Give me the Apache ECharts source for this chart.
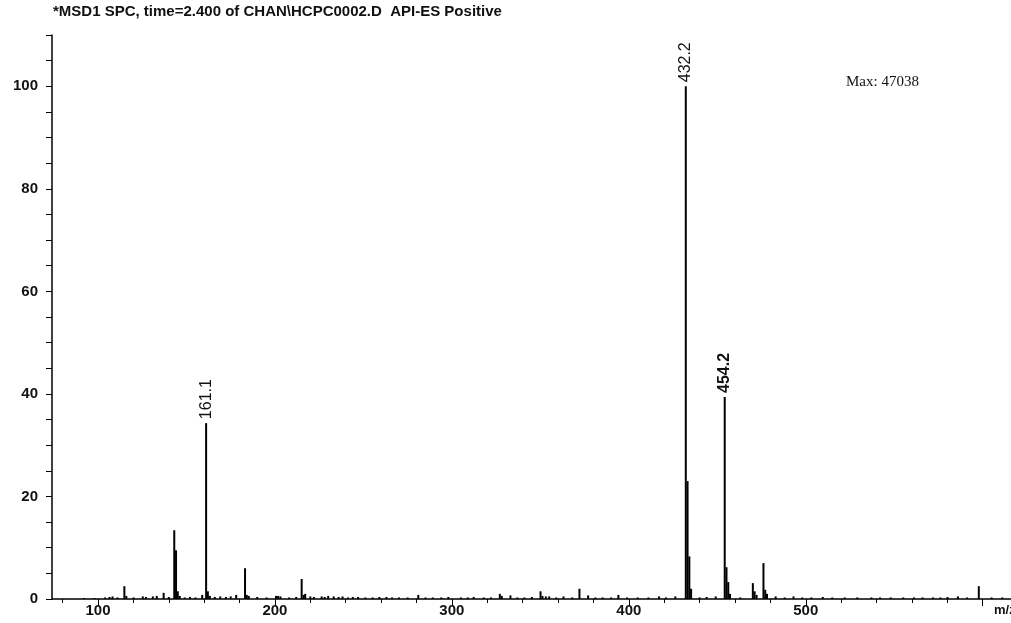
<!DOCTYPE html>
<html>
<head>
<meta charset="utf-8">
<title>MSD1 SPC</title>
<script src="https://cdn.jsdelivr.net/npm/echarts@6/dist/echarts.min.js"></script>
<style>
  html, body { margin: 0; padding: 0; background: #fff; }
  #chart { width: 1011px; height: 623px; }
</style>
</head>
<body>
<div id="chart"></div>
<script>
// m/z of each line and its relative abundance (%)
const masses = [
  92.0, 98.1, 104.0, 106.5, 108.2, 111.0, 114.9, 116.0, 120.1, 125.3,
  127.1, 131.0, 133.2, 137.1, 140.0, 143.1, 144.1, 145.1, 146.2, 149.0,
  152.0, 155.1, 158.9, 161.1, 162.1, 163.2, 166.0, 169.1, 172.3, 175.0,
  178.1, 183.1, 184.1, 185.2, 190.0, 195.3, 200.6, 201.8, 203.1, 208.0,
  212.0, 215.1, 216.2, 217.1, 220.0, 222.0, 226.4, 228.1, 230.1, 233.2,
  236.0, 238.2, 241.3, 244.0, 247.0, 251.1, 255.2, 259.0, 263.0, 266.2,
  270.1, 275.0, 281.0, 285.1, 289.2, 294.0, 298.0, 305.1, 309.0, 312.3,
  318.0, 322.1, 327.1, 328.2, 333.1, 337.0, 341.0, 345.2, 350.1, 351.2,
  353.1, 355.0, 359.0, 363.1, 368.0, 372.1, 377.0, 381.1, 385.2, 390.0,
  394.1, 399.0, 405.0, 411.1, 417.1, 421.0, 426.3, 432.2, 433.2, 434.2,
  435.2, 440.0, 444.0, 449.1, 454.2, 455.2, 456.2, 457.2, 463.0, 470.1,
  471.1, 472.2, 476.1, 477.1, 478.1, 483.0, 488.1, 493.1, 498.0, 503.2,
  509.6, 515.0, 522.0, 529.1, 537.1, 542.0, 548.0, 555.1, 561.2, 566.0,
  572.0, 576.1, 580.1, 586.0, 591.2, 597.8, 605.0, 611.1
]
const abundance = [
  0.2, 0.2, 0.3, 0.4, 0.5, 0.3, 2.5, 0.6, 0.3, 0.5,
  0.4, 0.5, 0.6, 1.2, 0.4, 13.4, 9.5, 1.5, 0.6, 0.3,
  0.4, 0.3, 0.8, 34.3, 1.5, 0.6, 0.4, 0.5, 0.4, 0.5,
  0.8, 6.0, 0.8, 0.6, 0.4, 0.3, 0.6, 0.6, 0.5, 0.3,
  0.4, 3.9, 0.8, 1.0, 0.5, 0.4, 0.5, 0.4, 0.6, 0.5,
  0.4, 0.5, 0.3, 0.4, 0.4, 0.3, 0.3, 0.4, 0.4, 0.3,
  0.3, 0.3, 0.8, 0.3, 0.3, 0.3, 0.4, 0.3, 0.3, 0.4,
  0.3, 0.3, 1.0, 0.6, 0.7, 0.3, 0.3, 0.4, 1.5, 0.6,
  0.5, 0.5, 0.3, 0.5, 0.3, 2.0, 0.7, 0.3, 0.3, 0.3,
  0.8, 0.3, 0.3, 0.3, 0.5, 0.3, 0.5, 100, 23.0, 8.3,
  2.0, 0.3, 0.4, 0.5, 39.4, 6.2, 3.3, 1.0, 0.3, 3.1,
  1.5, 0.8, 7.0, 1.8, 1.0, 0.5, 0.3, 0.5, 0.3, 0.3,
  0.4, 0.3, 0.3, 0.3, 0.3, 0.3, 0.3, 0.3, 0.3, 0.3,
  0.3, 0.3, 0.4, 0.5, 0.3, 2.5, 0.3, 0.3
]
// peaks that carry an m/z label
const labelledPeaks = ['161.1', '432.2', '454.2']

const yTicks = [0, 5, 10, 15, 20, 25, 30, 35, 40, 45, 50, 55, 60, 65, 70, 75, 80, 85, 90, 95, 100, 105, 110]
const yLabels = [0, 20, 40, 60, 80, 100]
const xTicks = [80, 100, 120, 140, 160, 180, 200, 220, 240, 260, 280, 300, 320, 340, 360, 380, 400, 420, 440, 460, 480, 500, 520, 540, 560, 580, 600]
const xMajorTicks = [100, 200, 300, 400, 500, 600]
const xLabels = [100, 200, 300, 400, 500]

const chart = echarts.init(document.getElementById('chart'))

const lines = masses.map((m, i) => {
  const item = { value: [m, abundance[i]] }
  if (labelledPeaks.indexOf(m.toFixed(1)) !== -1) {
    item.label = {
      show: true,
      position: 'top',
      rotate: 90,
      align: 'left',
      verticalAlign: 'middle',
      distance: 4,
      formatter: m.toFixed(1),
      color: '#111',
      fontFamily: 'Liberation Sans',
      fontSize: 16,
      fontWeight: m.toFixed(1) === '454.2' ? 'bold' : 'normal'
    }
  }
  return item
})

chart.setOption({
  backgroundColor: '#fff',
  animation: false,
  grid: {
    left: 52,
    right: 0,
    top: 35,
    bottom: 24,
    containLabel: false
  },
  graphic: [
    {
      type: 'text',
      left: 53,
      top: 4,
      style: {
        text: '*MSD1 SPC, time=2.400 of CHAN\\HCPC0002.D  API-ES Positive',
        fill: '#111',
        font: 'bold 15px "Liberation Sans", Arial, sans-serif'
      }
    },
    {
      type: 'text',
      left: 846,
      top: 75,
      style: {
        text: 'Max: 47038',
        fill: '#111',
        font: '15px "Liberation Serif", "Times New Roman", serif'
      }
    },
    {
      type: 'text',
      left: 994,
      top: 604,
      style: {
        text: 'm/z',
        fill: '#111',
        font: 'bold 13px "Liberation Sans", Arial, sans-serif'
      }
    }
  ],
  xAxis: [
    {
      type: 'value',
      min: 74,
      max: 616,
      splitLine: { show: false },
      axisLine: { lineStyle: { color: '#000', width: 1.5 } },
      axisTick: {
        show: true,
        customValues: xTicks,
        length: 4,
        lineStyle: { color: '#000', width: 1 }
      },
      axisLabel: {
        customValues: xLabels,
        margin: 4,
        color: '#111',
        fontFamily: 'Liberation Sans',
        fontSize: 15,
        fontWeight: 'bold'
      }
    },
    {
      type: 'value',
      min: 74,
      max: 616,
      position: 'bottom',
      splitLine: { show: false },
      axisLine: { show: false },
      axisTick: {
        show: true,
        customValues: xMajorTicks,
        length: 7,
        lineStyle: { color: '#000', width: 1 }
      },
      axisLabel: { show: false }
    }
  ],
  yAxis: {
    type: 'value',
    min: 0,
    max: 110,
    splitLine: { show: false },
    axisLine: { show: true, lineStyle: { color: '#000', width: 1.5 } },
    axisTick: {
      show: true,
      customValues: yTicks,
      length: 6,
      lineStyle: { color: '#000', width: 1 }
    },
    axisLabel: {
      customValues: yLabels,
      margin: 14,
      color: '#111',
      fontFamily: 'Liberation Sans',
      fontSize: 15,
      fontWeight: 'bold'
    }
  },
  series: [
    {
      type: 'bar',
      xAxisIndex: 0,
      barWidth: 2,
      itemStyle: { color: '#000' },
      data: lines
    }
  ]
})
</script>
</body>
</html>
